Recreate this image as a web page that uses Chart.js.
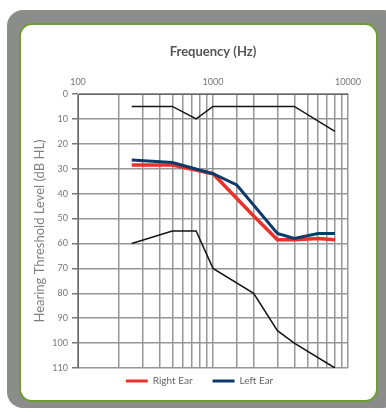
<!DOCTYPE html>
<html>
<head>
<meta charset="utf-8">
<script src="https://cdn.jsdelivr.net/npm/chart.js@4.4.1/dist/chart.umd.min.js"></script>
<style>
  html, body { margin: 0; padding: 0; background: #fff; overflow: hidden; }
  .frame { position: absolute; left: 7px; top: 10px; width: 392px; height: 398px; background: #8b8d8b; border-radius: 16px; }
  .card { position: absolute; left: 19px; top: 23px; width: 359px; height: 379px; box-sizing: border-box; background: #fff; border: 2px solid #6f9c32; border-radius: 13px; }
  #audiogram { position: absolute; left: 0; top: 0; }
</style>
</head>
<body>
<div class="frame"></div>
<div class="card"></div>
<canvas id="audiogram" width="386" height="412"></canvas>
<script>
// frequencies (Hz) and thresholds (dB HL)
const rightFreq = [250, 500, 1000, 2000, 3000, 4000, 6000, 8000];
const rightDb = [28.5, 28.5, 32, 49, 58.5, 58.5, 58, 58.5];

const leftFreq = [250, 500, 1000, 1500, 3000, 4000, 6000, 8000];
const leftDb = [26.5, 27.5, 32, 36.5, 56, 58, 56, 56];

// the two black reference curves
const upperFreq = [250, 500, 750, 1000, 4000, 8000];
const upperDb = [5, 5, 10, 5, 5, 15];

const lowerFreq = [250, 500, 750, 1000, 2000, 3000, 4000, 8000];
const lowerDb = [60, 55, 55, 70, 80, 95, 100, 110];

const freqLabels = [100, 1000, 10000];
const legendNames = ["Right Ear", "Left Ear"];

const toPoints = (xs, ys) => xs.map((x, i) => ({ x: x, y: ys[i] }));

Chart.defaults.font.family = "Lato, 'DejaVu Sans', sans-serif";

// pull the legend up a bit so it sits close under the plot
const legendNudge = {
  id: "legendNudge",
  afterLayout(chart) {
    if (chart.legend) {
      chart.legend.top -= 12;
      chart.legend.bottom -= 12;
    }
  }
};

const ctx = document.getElementById("audiogram").getContext("2d");
new Chart(ctx, {
  type: "line",
  data: {
    datasets: [
      {
        label: "Right Ear",
        data: toPoints(rightFreq, rightDb),
        borderColor: "#e8322a",
        backgroundColor: "#e8322a",
        borderWidth: 3.5,
        pointRadius: 0,
        order: 2,
      },
      {
        label: "Left Ear",
        data: toPoints(leftFreq, leftDb),
        borderColor: "#0d3a68",
        backgroundColor: "#0d3a68",
        borderWidth: 3,
        pointRadius: 0,
        order: 1,
      },
      {
        label: "upper",
        data: toPoints(upperFreq, upperDb),
        borderColor: "#141414",
        borderWidth: 1.5,
        pointRadius: 0,
        order: 3,
      },
      {
        label: "lower",
        data: toPoints(lowerFreq, lowerDb),
        borderColor: "#141414",
        borderWidth: 1.5,
        pointRadius: 0,
        order: 3,
      },
    ],
  },
  options: {
    responsive: false,
    animation: false,
    layout: { padding: { left: 51, right: 38, top: 40, bottom: 4 } },
    scales: {
      x: {
        type: "logarithmic",
        position: "top",
        min: 100,
        max: 10000,
        afterFit: (s) => { s.height = 54; },
        grid: { color: "#969696", lineWidth: 1.5, drawTicks: false },
        border: { color: "#666", width: 1 },
        ticks: {
          autoSkip: false,
          maxRotation: 0,
          padding: 7,
          color: "#777",
          font: { size: 9 },
          callback: (v) => (freqLabels.some((f) => Math.abs(f - v) < 0.5) ? String(Math.round(v)) : ""),
        },
        title: {
          display: true,
          text: "Frequency (Hz)",
          color: "#555",
          font: { size: 13, weight: "bold" },
          padding: { top: 4, bottom: 0 },
        },
      },
      y: {
        type: "linear",
        reverse: true,
        min: 0,
        max: 110,
        afterFit: (s) => { s.width = 27; },
        grid: { color: "#969696", lineWidth: 1.5, tickLength: 6, tickColor: "#777" },
        border: { color: "#666", width: 1 },
        ticks: { stepSize: 10, padding: 4, color: "#777", font: { size: 9 } },
        title: {
          display: true,
          text: "Hearing Threshold Level (dB HL)",
          color: "#808080",
          font: { size: 13 },
          padding: { top: -19, bottom: 0 },
        },
      },
    },
    plugins: {
      tooltip: { enabled: false },
      legend: {
        position: "bottom",
        labels: {
          boxWidth: 22,
          boxHeight: 3,
          padding: 20,
          color: "#666",
          font: { size: 10 },
          sort: (a, b) => a.datasetIndex - b.datasetIndex,
          generateLabels(chart) {
            const items = Chart.defaults.plugins.legend.labels.generateLabels(chart);
            return items
              .filter((it) => legendNames.includes(it.text))
              .map((it) => Object.assign(it, { lineWidth: 0 }));
          },
        },
      },
    },
  },
  plugins: [legendNudge],
});
</script>
</body>
</html>
